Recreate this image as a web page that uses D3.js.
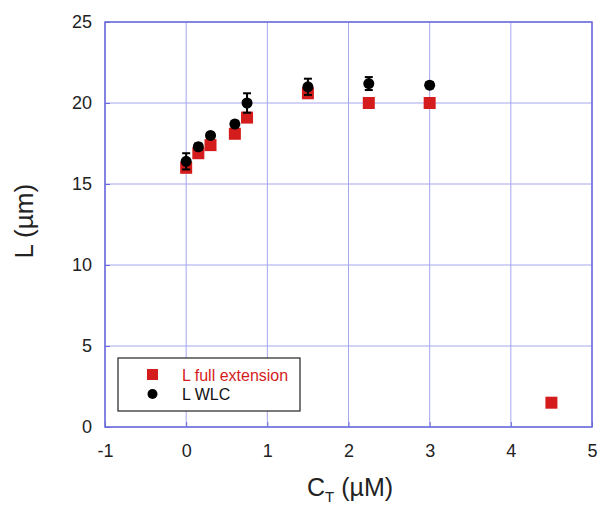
<!DOCTYPE html>
<html>
<head>
<meta charset="utf-8">
<script src="https://cdn.jsdelivr.net/npm/d3@7"></script>
<style>
  body { margin: 0; background: #fff; }
  text { font-family: Arial, "Liberation Sans", sans-serif; }
</style>
</head>
<body>
<div id="chart"></div>
<script>
const width = 602;
const height = 509;
const margin = { top: 22, right: 10, bottom: 82, left: 105 };

// data
const ct = [0, 0.15, 0.3, 0.6, 0.75, 1.5, 2.25, 3];
const fullExt = [16.0, 16.9, 17.4, 18.1, 19.1, 20.6, 20.0, 20.0];
const fullExtX = [4.5];
const fullExtY = [1.5];
const wlc = [16.4, 17.3, 18.0, 18.7, 20.0, 21.0, 21.2, 21.1];
const wlcErr = [0.5, 0.2, 0.15, 0.2, 0.6, 0.5, 0.4, 0.2];
const xTicks = [-1, 0, 1, 2, 3, 4, 5];
const yTicks = [0, 5, 10, 15, 20, 25];

const svg = d3.select("#chart")
    .append("svg")
    .attr("width", width)
    .attr("height", height);

const x = d3.scaleLinear().domain([-1, 5]).range([margin.left, width - margin.right]);
const y = d3.scaleLinear().domain([0, 25]).range([height - margin.bottom, margin.top]);

const gridColor = "#a6a6ee";
const frameColor = "#6a6adc";

// grid
svg.append("g")
    .selectAll("line")
    .data(xTicks)
    .join("line")
    .attr("x1", d => x(d)).attr("x2", d => x(d))
    .attr("y1", y(0)).attr("y2", y(25))
    .attr("stroke", gridColor).attr("stroke-width", 1);

svg.append("g")
    .selectAll("line")
    .data(yTicks)
    .join("line")
    .attr("x1", x(-1)).attr("x2", x(5))
    .attr("y1", d => y(d)).attr("y2", d => y(d))
    .attr("stroke", gridColor).attr("stroke-width", 1);

// axes with inward ticks
const fmt = d => String(d);
const xAxis = svg.append("g")
    .attr("transform", `translate(0,${y(0)})`)
    .call(d3.axisBottom(x).tickValues(xTicks).tickFormat(fmt).tickSizeInner(-5).tickSizeOuter(0).tickPadding(17));
const yAxis = svg.append("g")
    .attr("transform", `translate(${x(-1)},0)`)
    .call(d3.axisLeft(y).tickValues(yTicks).tickFormat(fmt).tickSizeInner(-5).tickSizeOuter(0).tickPadding(13));

[xAxis, yAxis].forEach(a => {
    a.select(".domain").remove();
    a.selectAll(".tick line").attr("stroke", frameColor);
    a.selectAll(".tick text").attr("font-size", 18).attr("fill", "#222")
        .style("font-family", "Arial, 'Liberation Sans', sans-serif");
});
// keep the last x label inside the page
xAxis.selectAll(".tick text").filter(d => d === 5).attr("text-anchor", "end").attr("dx", 5);

// frame
svg.append("rect")
    .attr("x", x(-1)).attr("y", y(25))
    .attr("width", x(5) - x(-1)).attr("height", y(0) - y(25))
    .attr("fill", "none").attr("stroke", frameColor).attr("stroke-width", 1.5);

// red squares
const sq = 12;
const redColor = "#d41c1c";
const reds = ct.map((c, i) => [c, fullExt[i]]).concat(fullExtX.map((c, i) => [c, fullExtY[i]]));
svg.append("g")
    .selectAll("rect")
    .data(reds)
    .join("rect")
    .attr("x", d => x(d[0]) - sq / 2)
    .attr("y", d => y(d[1]) - sq / 2)
    .attr("width", sq).attr("height", sq)
    .attr("fill", redColor);

// WLC error bars
const eb = svg.append("g").attr("stroke", "#000").attr("stroke-width", 2);
ct.forEach((c, i) => {
    const cx = x(c);
    const t = y(wlc[i] + wlcErr[i]);
    const b = y(wlc[i] - wlcErr[i]);
    eb.append("line").attr("x1", cx).attr("x2", cx).attr("y1", t).attr("y2", b);
    eb.append("line").attr("x1", cx - 4).attr("x2", cx + 4).attr("y1", t).attr("y2", t);
    eb.append("line").attr("x1", cx - 4).attr("x2", cx + 4).attr("y1", b).attr("y2", b);
});

// WLC circles
svg.append("g")
    .selectAll("circle")
    .data(ct)
    .join("circle")
    .attr("cx", d => x(d))
    .attr("cy", (d, i) => y(wlc[i]))
    .attr("r", 5.5)
    .attr("fill", "#000");

// legend
const legend = svg.append("g");
legend.append("rect")
    .attr("x", 118).attr("y", 358).attr("width", 182).attr("height", 53)
    .attr("fill", "#fff").attr("stroke", "#222").attr("stroke-width", 1.2);
legend.append("rect")
    .attr("x", 147).attr("y", 369).attr("width", 11).attr("height", 11)
    .attr("fill", redColor);
legend.append("circle")
    .attr("cx", 152.5).attr("cy", 394).attr("r", 5)
    .attr("fill", "#000");
legend.append("text")
    .attr("x", 182).attr("y", 381)
    .attr("font-size", 16).attr("fill", redColor)
    .text("L full extension");
legend.append("text")
    .attr("x", 182).attr("y", 400)
    .attr("font-size", 16).attr("fill", "#111")
    .text("L WLC");

// axis titles
const xt = svg.append("text")
    .attr("x", 350).attr("y", 496)
    .attr("text-anchor", "middle")
    .attr("font-size", 25).attr("fill", "#222");
xt.append("tspan").text("C");
xt.append("tspan").attr("font-size", 15).attr("dy", 6).text("T");
xt.append("tspan").attr("dy", -6).text(" (\u00b5M)");

svg.append("text")
    .attr("transform", `translate(33,${y(12.7)}) rotate(-90)`)
    .attr("text-anchor", "middle")
    .attr("font-size", 26).attr("fill", "#222")
    .text("L (\u00b5m)");
</script>
</body>
</html>
